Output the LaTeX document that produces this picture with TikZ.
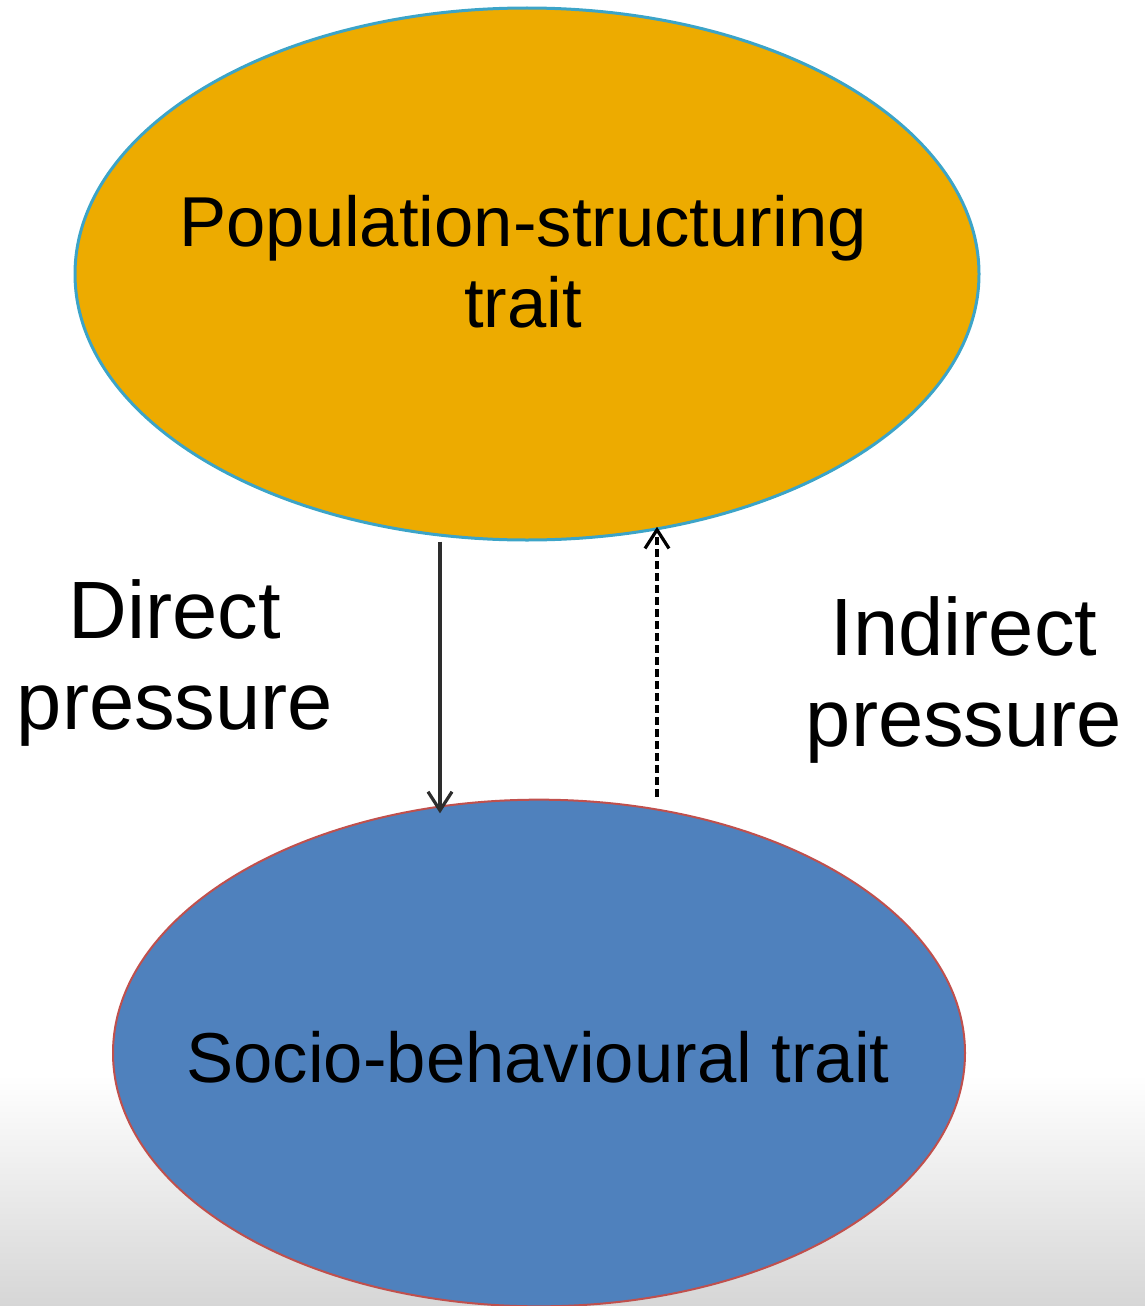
\documentclass[tikz,border=0pt]{standalone}
\usepackage{fontspec}
\setmainfont{Liberation Sans}
\usetikzlibrary{shapes.geometric,arrows.meta}

\definecolor{popfill}{RGB}{237,171,0}
\definecolor{popline}{RGB}{60,164,200}
\definecolor{socfill}{RGB}{79,129,189}
\definecolor{socline}{RGB}{192,80,77}
\definecolor{floorgrey}{RGB}{214,214,214}

\tikzset{every picture/.style={line width=0.75pt}}
\tikzset{
  traitoval/.style={ellipse, inner sep=0pt},
  traitlabel/.style={align=center, inner sep=0.75pt, font=\fontsize{53}{61}\selectfont},
  pressurelabel/.style={align=center, inner sep=0.75pt, font=\fontsize{61}{68}\selectfont},
  directarrow/.style={draw={rgb,255:red,45;green,45;blue,45}, line width=2.4pt, -{Straight Barb[length=14pt,width=18pt]}},
  indirectarrow/.style={draw=black, line width=2.4pt, dash pattern=on 6pt off 3pt, -{Straight Barb[length=14pt,width=18pt]}}
}

\begin{document}
\begin{tikzpicture}[x=0.75pt,y=0.75pt,yscale=-1,xscale=1]
\useasboundingbox (0,0) rectangle (1145,1306);

%Shape: Rectangle [floor shading]
\shade [top color=white, bottom color=floorgrey] (0,1075) rectangle (1145,1306);

%Shape: Ellipse [population-structuring]
\node [traitoval, draw=popline, line width=2.25pt, fill=popfill, minimum width=678pt, minimum height=399pt] (pop) at (527,274) {};
%Shape: Ellipse [socio-behavioural]
\node [traitoval, draw=socline, line width=1.5pt, fill=socfill, minimum width=639pt, minimum height=380pt] (soc) at (539,1053) {};

\coordinate (dline) at (440,0);
\coordinate (iline) at (657,0);

%Straight Lines [direct]
\draw [directarrow, shorten >=-11pt] (pop.south -| dline) -- (soc.north -| dline);
%Straight Lines [indirect]
\draw [indirectarrow, shorten <=1.5pt, shorten >=-11pt] (soc.north -| iline) -- (pop.south -| iline);

% Text Node
\node [traitlabel] (poptext) at (523,262) {Population-structuring\\trait};
% Text Node
\node [traitlabel] (soctext) at (538,1057) {Socio-behavioural trait};
% Text Node
\node [pressurelabel] (direct) at (175,663) {Direct\\pressure};
% Text Node
\node [pressurelabel] (indirect) at (964,680) {Indirect\\pressure};

\end{tikzpicture}
\end{document}
